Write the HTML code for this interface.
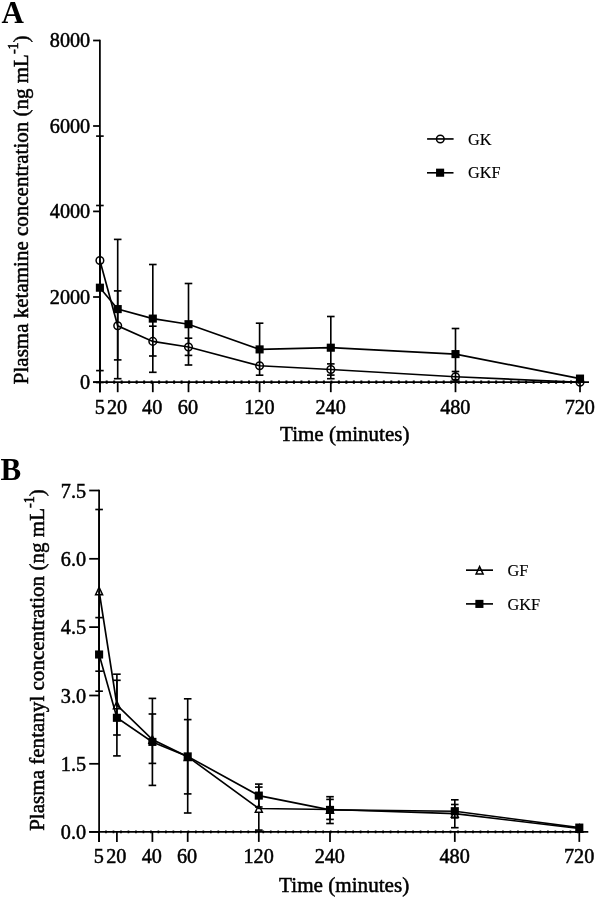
<!DOCTYPE html>
<html><head><meta charset="utf-8"><title>Figure</title>
<style>html,body{margin:0;padding:0;background:#fff}svg{display:block;will-change:transform}text{font-family:"Liberation Serif",serif;fill:#000;stroke:#000;stroke-width:0.5px}.tk{font-size:20.2px}.ti{font-size:21px}.lg{font-size:16.3px;stroke-width:0.15px}.pl{font-size:31px;font-weight:bold;stroke-width:0}.ln{stroke:#000;stroke-width:1.65;fill:none}.ax{stroke:#000;stroke-width:1.75;fill:none}</style></head><body>
<svg width="595" height="897" viewBox="0 0 595 897">
<rect width="595" height="897" fill="#fff"/>
<text class="pl" x="1.5" y="22.5">A</text>
<line class="ln" x1="99.9" y1="136.1" x2="99.9" y2="382.5"/>
<line class="ln" x1="96.1" y1="136.1" x2="103.7" y2="136.1"/>
<line class="ln" x1="96.1" y1="382.5" x2="103.7" y2="382.5"/>
<line class="ln" x1="117.7" y1="290.9" x2="117.7" y2="359.9"/>
<line class="ln" x1="113.9" y1="290.9" x2="121.5" y2="290.9"/>
<line class="ln" x1="113.9" y1="359.9" x2="121.5" y2="359.9"/>
<line class="ln" x1="152.8" y1="326.2" x2="152.8" y2="356"/>
<line class="ln" x1="149" y1="326.2" x2="156.6" y2="326.2"/>
<line class="ln" x1="149" y1="356" x2="156.6" y2="356"/>
<line class="ln" x1="188.5" y1="338.2" x2="188.5" y2="355.4"/>
<line class="ln" x1="184.7" y1="338.2" x2="192.3" y2="338.2"/>
<line class="ln" x1="184.7" y1="355.4" x2="192.3" y2="355.4"/>
<line class="ln" x1="330.8" y1="363.9" x2="330.8" y2="375.1"/>
<line class="ln" x1="327" y1="363.9" x2="334.6" y2="363.9"/>
<line class="ln" x1="327" y1="375.1" x2="334.6" y2="375.1"/>
<line class="ln" x1="455.5" y1="371.5" x2="455.5" y2="382"/>
<line class="ln" x1="451.7" y1="371.5" x2="459.3" y2="371.5"/>
<line class="ln" x1="451.7" y1="382" x2="459.3" y2="382"/>
<circle cx="99.9" cy="260.5" r="3.8" fill="#fff" stroke="#000" stroke-width="1.5"/>
<circle cx="117.7" cy="325.8" r="3.8" fill="#fff" stroke="#000" stroke-width="1.5"/>
<circle cx="152.8" cy="341.4" r="3.8" fill="#fff" stroke="#000" stroke-width="1.5"/>
<circle cx="188.5" cy="347" r="3.8" fill="#fff" stroke="#000" stroke-width="1.5"/>
<circle cx="259.6" cy="365.8" r="3.8" fill="#fff" stroke="#000" stroke-width="1.5"/>
<circle cx="330.8" cy="369.5" r="3.8" fill="#fff" stroke="#000" stroke-width="1.5"/>
<circle cx="455.5" cy="376.8" r="3.8" fill="#fff" stroke="#000" stroke-width="1.5"/>
<circle cx="580" cy="382.2" r="3.8" fill="#fff" stroke="#000" stroke-width="1.5"/>
<polyline class="ln" points="99.9,260.5 117.7,325.8 152.8,341.4 188.5,347 259.6,365.8 330.8,369.5 455.5,376.8 580,382.2"/>
<line class="ln" x1="99.9" y1="205.5" x2="99.9" y2="370.6"/>
<line class="ln" x1="96.1" y1="205.5" x2="103.7" y2="205.5"/>
<line class="ln" x1="96.1" y1="370.6" x2="103.7" y2="370.6"/>
<line class="ln" x1="117.7" y1="239.4" x2="117.7" y2="378.7"/>
<line class="ln" x1="113.9" y1="239.4" x2="121.5" y2="239.4"/>
<line class="ln" x1="113.9" y1="378.7" x2="121.5" y2="378.7"/>
<line class="ln" x1="152.8" y1="264.5" x2="152.8" y2="372.3"/>
<line class="ln" x1="149" y1="264.5" x2="156.6" y2="264.5"/>
<line class="ln" x1="149" y1="372.3" x2="156.6" y2="372.3"/>
<line class="ln" x1="188.5" y1="283.5" x2="188.5" y2="365"/>
<line class="ln" x1="184.7" y1="283.5" x2="192.3" y2="283.5"/>
<line class="ln" x1="184.7" y1="365" x2="192.3" y2="365"/>
<line class="ln" x1="259.6" y1="323.2" x2="259.6" y2="375.2"/>
<line class="ln" x1="255.8" y1="323.2" x2="263.4" y2="323.2"/>
<line class="ln" x1="255.8" y1="375.2" x2="263.4" y2="375.2"/>
<line class="ln" x1="330.8" y1="316.5" x2="330.8" y2="378.7"/>
<line class="ln" x1="327" y1="316.5" x2="334.6" y2="316.5"/>
<line class="ln" x1="327" y1="378.7" x2="334.6" y2="378.7"/>
<line class="ln" x1="455.5" y1="328.5" x2="455.5" y2="379.7"/>
<line class="ln" x1="451.7" y1="328.5" x2="459.3" y2="328.5"/>
<line class="ln" x1="451.7" y1="379.7" x2="459.3" y2="379.7"/>
<rect x="95.85" y="283.65" width="8.1" height="8.1" fill="#000"/>
<rect x="113.65" y="305.05" width="8.1" height="8.1" fill="#000"/>
<rect x="148.75" y="314.55" width="8.1" height="8.1" fill="#000"/>
<rect x="184.45" y="320.15" width="8.1" height="8.1" fill="#000"/>
<rect x="255.55" y="345.35" width="8.1" height="8.1" fill="#000"/>
<rect x="326.75" y="343.65" width="8.1" height="8.1" fill="#000"/>
<rect x="451.45" y="350.05" width="8.1" height="8.1" fill="#000"/>
<rect x="575.95" y="374.55" width="8.1" height="8.1" fill="#000"/>
<polyline class="ln" points="99.9,287.7 117.7,309.1 152.8,318.6 188.5,324.2 259.6,349.4 330.8,347.7 455.5,354.1 580,378.6"/>
<line class="ax" x1="99.9" y1="39.8" x2="99.9" y2="392.2"/>
<line class="ax" x1="93.1" y1="382.2" x2="589" y2="382.2"/>
<line x1="105.69" y1="382.1" x2="580" y2="382.1" stroke="#000" stroke-width="3.1" stroke-dasharray="2 5.49" />
<line class="ax" x1="93.1" y1="40.5" x2="99.9" y2="40.5"/>
<text class="tk" x="90.2" y="47" text-anchor="end">8000</text>
<line class="ax" x1="93.1" y1="126" x2="99.9" y2="126"/>
<text class="tk" x="90.2" y="132.5" text-anchor="end">6000</text>
<line class="ax" x1="93.1" y1="211.4" x2="99.9" y2="211.4"/>
<text class="tk" x="90.2" y="217.9" text-anchor="end">4000</text>
<line class="ax" x1="93.1" y1="297" x2="99.9" y2="297"/>
<text class="tk" x="90.2" y="303.5" text-anchor="end">2000</text>
<line class="ax" x1="93.1" y1="382.2" x2="99.9" y2="382.2"/>
<text class="tk" x="90.2" y="388.7" text-anchor="end">0</text>
<line class="ax" x1="99.9" y1="382.2" x2="99.9" y2="392.2"/>
<text class="tk" x="99.7" y="413.5" text-anchor="middle">5</text>
<line class="ax" x1="117.7" y1="382.2" x2="117.7" y2="392.2"/>
<text class="tk" x="117.1" y="413.5" text-anchor="middle">20</text>
<line class="ax" x1="152.8" y1="382.2" x2="152.8" y2="392.2"/>
<text class="tk" x="152.2" y="413.5" text-anchor="middle">40</text>
<line class="ax" x1="188.5" y1="382.2" x2="188.5" y2="392.2"/>
<text class="tk" x="187.9" y="413.5" text-anchor="middle">60</text>
<line class="ax" x1="259.6" y1="382.2" x2="259.6" y2="392.2"/>
<text class="tk" x="259.4" y="413.5" text-anchor="middle">120</text>
<line class="ax" x1="330.8" y1="382.2" x2="330.8" y2="392.2"/>
<text class="tk" x="330.6" y="413.5" text-anchor="middle">240</text>
<line class="ax" x1="455.5" y1="382.2" x2="455.5" y2="392.2"/>
<text class="tk" x="455.3" y="413.5" text-anchor="middle">480</text>
<line class="ax" x1="580" y1="382.2" x2="580" y2="392.2"/>
<text class="tk" x="579.8" y="413.5" text-anchor="middle">720</text>
<text class="ti" style="font-size:21px" transform="translate(27.5 209.8) rotate(-90)" text-anchor="middle">Plasma ketamine concentration (ng mL<tspan dy="-9.6" font-size="14px">-1</tspan><tspan dy="9.6">)</tspan></text>
<text class="ti" style="font-size:21px" x="344.75" y="440.8" text-anchor="middle">Time (minutes)</text>
<circle cx="440.3" cy="139.05" r="3.8" fill="#fff" stroke="#000" stroke-width="1.5"/>
<line class="ln" x1="427.1" y1="138.95" x2="453.6" y2="138.95"/>
<text class="lg" x="468" y="144.7">GK</text>
<line class="ln" x1="427" y1="172.8" x2="453.5" y2="172.8"/>
<rect x="436.05" y="168.65" width="8.1" height="8.1" fill="#000"/>
<text class="lg" x="468" y="178.2">GKF</text>
<text class="pl" x="0.5" y="479.6">B</text>
<line class="ln" x1="99.1" y1="509.5" x2="99.1" y2="671.2"/>
<line class="ln" x1="95.3" y1="509.5" x2="102.9" y2="509.5"/>
<line class="ln" x1="95.3" y1="671.2" x2="102.9" y2="671.2"/>
<line class="ln" x1="116.9" y1="674.2" x2="116.9" y2="735"/>
<line class="ln" x1="113.1" y1="674.2" x2="120.7" y2="674.2"/>
<line class="ln" x1="113.1" y1="735" x2="120.7" y2="735"/>
<line class="ln" x1="152.4" y1="714" x2="152.4" y2="763.4"/>
<line class="ln" x1="148.6" y1="714" x2="156.2" y2="714"/>
<line class="ln" x1="148.6" y1="763.4" x2="156.2" y2="763.4"/>
<line class="ln" x1="187.7" y1="719.6" x2="187.7" y2="793.9"/>
<line class="ln" x1="183.9" y1="719.6" x2="191.5" y2="719.6"/>
<line class="ln" x1="183.9" y1="793.9" x2="191.5" y2="793.9"/>
<line class="ln" x1="258.8" y1="787.1" x2="258.8" y2="830.1"/>
<line class="ln" x1="255" y1="787.1" x2="262.6" y2="787.1"/>
<line class="ln" x1="255" y1="830.1" x2="262.6" y2="830.1"/>
<line class="ln" x1="330" y1="799.4" x2="330" y2="819.4"/>
<line class="ln" x1="326.2" y1="799.4" x2="333.8" y2="799.4"/>
<line class="ln" x1="326.2" y1="819.4" x2="333.8" y2="819.4"/>
<line class="ln" x1="454.8" y1="799.8" x2="454.8" y2="827.7"/>
<line class="ln" x1="451" y1="799.8" x2="458.6" y2="799.8"/>
<line class="ln" x1="451" y1="827.7" x2="458.6" y2="827.7"/>
<path d="M99.1 587.3 L102.6 594.7 L95.6 594.7 Z" fill="#fff" stroke="#000" stroke-width="1.5" stroke-linejoin="miter"/>
<path d="M116.9 701.3 L120.4 708.7 L113.4 708.7 Z" fill="#fff" stroke="#000" stroke-width="1.5" stroke-linejoin="miter"/>
<path d="M152.4 735.8 L155.9 743.2 L148.9 743.2 Z" fill="#fff" stroke="#000" stroke-width="1.5" stroke-linejoin="miter"/>
<path d="M187.7 753 L191.2 760.4 L184.2 760.4 Z" fill="#fff" stroke="#000" stroke-width="1.5" stroke-linejoin="miter"/>
<path d="M258.8 804.8 L262.3 812.2 L255.3 812.2 Z" fill="#fff" stroke="#000" stroke-width="1.5" stroke-linejoin="miter"/>
<path d="M330 805.8 L333.5 813.2 L326.5 813.2 Z" fill="#fff" stroke="#000" stroke-width="1.5" stroke-linejoin="miter"/>
<path d="M454.8 809.9 L458.3 817.3 L451.3 817.3 Z" fill="#fff" stroke="#000" stroke-width="1.5" stroke-linejoin="miter"/>
<path d="M579.3 824.8 L582.8 832.2 L575.8 832.2 Z" fill="#fff" stroke="#000" stroke-width="1.5" stroke-linejoin="miter"/>
<polyline class="ln" points="99.1,591 116.9,705 152.4,739.5 187.7,756.7 258.8,808.5 330,809.5 454.8,813.6 579.3,828.5"/>
<line class="ln" x1="99.1" y1="617.6" x2="99.1" y2="691.2"/>
<line class="ln" x1="95.3" y1="617.6" x2="102.9" y2="617.6"/>
<line class="ln" x1="95.3" y1="691.2" x2="102.9" y2="691.2"/>
<line class="ln" x1="116.9" y1="680.3" x2="116.9" y2="755.9"/>
<line class="ln" x1="113.1" y1="680.3" x2="120.7" y2="680.3"/>
<line class="ln" x1="113.1" y1="755.9" x2="120.7" y2="755.9"/>
<line class="ln" x1="152.4" y1="698.4" x2="152.4" y2="785.4"/>
<line class="ln" x1="148.6" y1="698.4" x2="156.2" y2="698.4"/>
<line class="ln" x1="148.6" y1="785.4" x2="156.2" y2="785.4"/>
<line class="ln" x1="187.7" y1="698.8" x2="187.7" y2="813"/>
<line class="ln" x1="183.9" y1="698.8" x2="191.5" y2="698.8"/>
<line class="ln" x1="183.9" y1="813" x2="191.5" y2="813"/>
<line class="ln" x1="258.8" y1="784.1" x2="258.8" y2="807"/>
<line class="ln" x1="255" y1="784.1" x2="262.6" y2="784.1"/>
<line class="ln" x1="255" y1="807" x2="262.6" y2="807"/>
<line class="ln" x1="330" y1="796.7" x2="330" y2="823.5"/>
<line class="ln" x1="326.2" y1="796.7" x2="333.8" y2="796.7"/>
<line class="ln" x1="326.2" y1="823.5" x2="333.8" y2="823.5"/>
<line class="ln" x1="454.8" y1="804.5" x2="454.8" y2="817.9"/>
<line class="ln" x1="451" y1="804.5" x2="458.6" y2="804.5"/>
<line class="ln" x1="451" y1="817.9" x2="458.6" y2="817.9"/>
<rect x="95.05" y="650.45" width="8.1" height="8.1" fill="#000"/>
<rect x="112.85" y="713.75" width="8.1" height="8.1" fill="#000"/>
<rect x="148.35" y="737.85" width="8.1" height="8.1" fill="#000"/>
<rect x="183.65" y="752.35" width="8.1" height="8.1" fill="#000"/>
<rect x="254.75" y="791.55" width="8.1" height="8.1" fill="#000"/>
<rect x="325.95" y="805.85" width="8.1" height="8.1" fill="#000"/>
<rect x="450.75" y="807.15" width="8.1" height="8.1" fill="#000"/>
<rect x="575.25" y="823.55" width="8.1" height="8.1" fill="#000"/>
<polyline class="ln" points="99.1,654.5 116.9,717.8 152.4,741.9 187.7,756.4 258.8,795.6 330,809.9 454.8,811.2 579.3,827.6"/>
<line class="ax" x1="99.1" y1="489.8" x2="99.1" y2="841.9"/>
<line class="ax" x1="89.2" y1="831.9" x2="588.3" y2="831.9"/>
<line x1="105.14" y1="831.9" x2="579.3" y2="831.9" stroke="#000" stroke-width="2.9" stroke-dasharray="1.7 5.79" />
<line class="ax" x1="89.2" y1="490.5" x2="99.1" y2="490.5"/>
<text class="tk" x="86.1" y="497.5" text-anchor="end">7.5</text>
<line class="ax" x1="89.2" y1="558.8" x2="99.1" y2="558.8"/>
<text class="tk" x="86.1" y="565.8" text-anchor="end">6.0</text>
<line class="ax" x1="89.2" y1="627.1" x2="99.1" y2="627.1"/>
<text class="tk" x="86.1" y="634.1" text-anchor="end">4.5</text>
<line class="ax" x1="89.2" y1="695.5" x2="99.1" y2="695.5"/>
<text class="tk" x="86.1" y="702.5" text-anchor="end">3.0</text>
<line class="ax" x1="89.2" y1="763.8" x2="99.1" y2="763.8"/>
<text class="tk" x="86.1" y="770.8" text-anchor="end">1.5</text>
<line class="ax" x1="89.2" y1="831.9" x2="99.1" y2="831.9"/>
<text class="tk" x="86.1" y="838.9" text-anchor="end">0.0</text>
<line class="ax" x1="99.1" y1="831.9" x2="99.1" y2="841.9"/>
<text class="tk" x="98.9" y="863.1" text-anchor="middle">5</text>
<line class="ax" x1="116.9" y1="831.9" x2="116.9" y2="841.9"/>
<text class="tk" x="116.3" y="863.1" text-anchor="middle">20</text>
<line class="ax" x1="152.4" y1="831.9" x2="152.4" y2="841.9"/>
<text class="tk" x="151.8" y="863.1" text-anchor="middle">40</text>
<line class="ax" x1="187.7" y1="831.9" x2="187.7" y2="841.9"/>
<text class="tk" x="187.1" y="863.1" text-anchor="middle">60</text>
<line class="ax" x1="258.8" y1="831.9" x2="258.8" y2="841.9"/>
<text class="tk" x="258.6" y="863.1" text-anchor="middle">120</text>
<line class="ax" x1="330" y1="831.9" x2="330" y2="841.9"/>
<text class="tk" x="329.8" y="863.1" text-anchor="middle">240</text>
<line class="ax" x1="454.8" y1="831.9" x2="454.8" y2="841.9"/>
<text class="tk" x="454.6" y="863.1" text-anchor="middle">480</text>
<line class="ax" x1="579.3" y1="831.9" x2="579.3" y2="841.9"/>
<text class="tk" x="579.1" y="863.1" text-anchor="middle">720</text>
<text class="ti" style="font-size:21.07px" transform="translate(44 660.1) rotate(-90)" text-anchor="middle">Plasma fentanyl concentration (ng mL<tspan dy="-9.6" font-size="14px">-1</tspan><tspan dy="9.6">)</tspan></text>
<text class="ti" style="font-size:21.15px" x="344.2" y="891.7" text-anchor="middle">Time (minutes)</text>
<path d="M479.6 566.6 L483.1 574 L476.1 574 Z" fill="#fff" stroke="#000" stroke-width="1.5" stroke-linejoin="miter"/>
<line class="ln" x1="466" y1="570.15" x2="493" y2="570.15"/>
<text class="lg" x="507.5" y="576.2">GF</text>
<line class="ln" x1="466" y1="603.9" x2="493" y2="603.9"/>
<rect x="475.35" y="599.85" width="8.1" height="8.1" fill="#000"/>
<text class="lg" x="507.5" y="609.7">GKF</text>
</svg></body></html>
